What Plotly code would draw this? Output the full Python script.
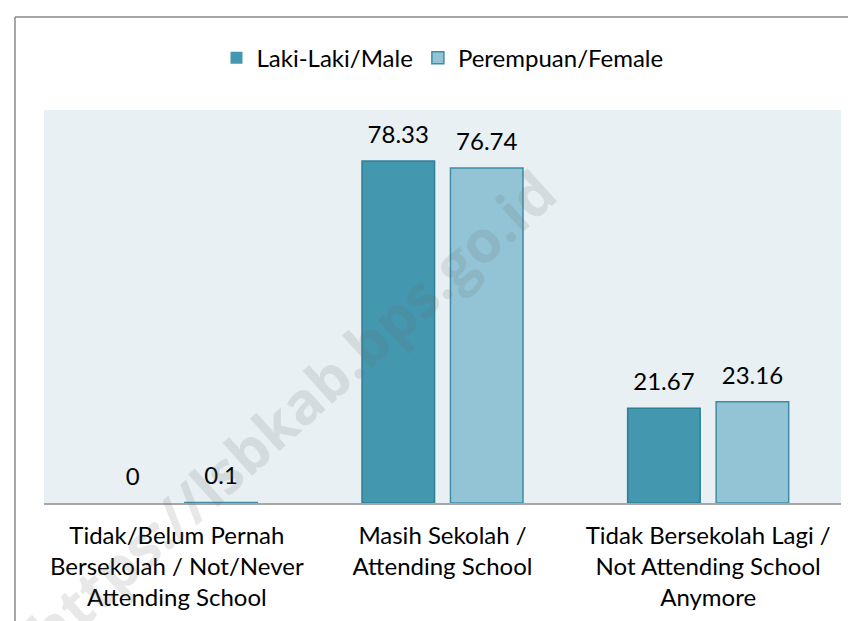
import plotly.graph_objects as go

categories = [
    "Tidak/Belum Pernah<br>Bersekolah / Not/Never<br>Attending School",
    "Masih Sekolah /<br>Attending School",
    "Tidak Bersekolah Lagi /<br>Not Attending School<br>Anymore",
]
male = [0, 78.33, 21.67]
female = [0.1, 76.74, 23.16]
male_label = ["0", "78.33", "21.67"]
female_label = ["0.1", "76.74", "23.16"]
series_names = ["Laki-Laki/Male", "Perempuan/Female"]
watermark = "https://lsbkab.bps.go.id"

FONT = "Lato, 'Open Sans', sans-serif"
FS = 24
GAP = 0.334

# no outline on zero-valued bars
male_line = [1.5 if v > 0 else 0 for v in male]
female_line = [1.5 if v > 0 else 0 for v in female]

fig = go.Figure()
fig.add_trace(go.Bar(
    x=categories, y=male, name=series_names[0],
    marker=dict(color="#4397AE", line=dict(color="#2F7F97", width=male_line)),
    hoverinfo="skip",
))
fig.add_trace(go.Bar(
    x=categories, y=female, name=series_names[1],
    marker=dict(color="#93C4D5", line=dict(color="#3E8CA5", width=female_line)),
    hoverinfo="skip",
))
# value labels, grouped like the bars
for vals, labels in ((male, male_label), (female, female_label)):
    fig.add_trace(go.Scatter(
        x=categories, y=vals, text=labels, mode="markers+text",
        textposition="top center", cliponaxis=False, showlegend=False,
        marker=dict(size=18, opacity=0), hoverinfo="skip",
        textfont=dict(family=FONT, size=FS, color="#000000"),
    ))

fig.update_layout(
    width=856, height=621,
    margin=dict(l=36, r=23, t=102, b=126),
    paper_bgcolor="#FFFFFF",
    plot_bgcolor="#E8F0F3",
    barmode="group",
    bargap=GAP,
    bargroupgap=0.18,
    scattermode="group",
    scattergap=GAP,
    font=dict(family=FONT, size=FS, color="#000000"),
    showlegend=True,
    legend=dict(orientation="h", x=0.5, xanchor="center", y=1.132, yanchor="middle",
                font=dict(family=FONT, size=FS, color="#000000"),
                itemwidth=30, traceorder="normal", bgcolor="rgba(0,0,0,0)"),
    xaxis=dict(showgrid=False, showline=True, linecolor="#A6A6A6", linewidth=1.5,
               ticks="outside", ticklen=10, tickcolor="rgba(0,0,0,0)",
               tickfont=dict(family=FONT, size=FS, color="#000000")),
    yaxis=dict(range=[0, 90], showgrid=False, showticklabels=False, zeroline=False,
               showline=False, ticks=""),
    shapes=[
        dict(type="line", xref="paper", yref="paper", x0=-0.0364, x1=1.03, y0=1.2366, y1=1.2366,
             line=dict(color="#898989", width=1.5)),
        dict(type="line", xref="paper", yref="paper", x0=-0.0364, x1=-0.0364, y0=1.2366, y1=-0.33,
             line=dict(color="#898989", width=1.5)),
    ],
    annotations=[
        dict(text="<b>" + watermark + "</b>", xref="paper", yref="paper", x=0.31, y=0.235,
             xanchor="center", yanchor="middle",
             showarrow=False, textangle=-42,
             font=dict(family="'Open Sans', sans-serif", size=58, color="rgba(110,110,110,0.16)")),
    ],
)

fig.write_html("out.html")
